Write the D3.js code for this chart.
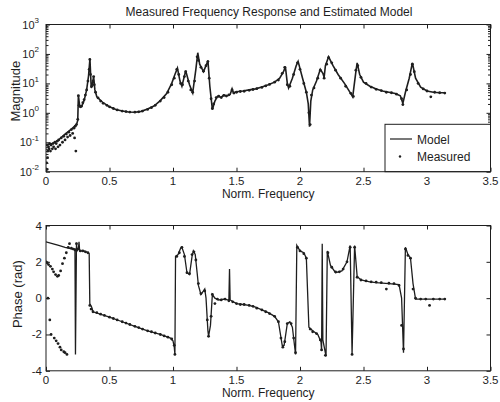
<!DOCTYPE html>
<html>
<head>
<meta charset="utf-8">
<script src="https://cdn.jsdelivr.net/npm/d3@7"></script>
<style>
  body { margin: 0; background: #fff; }
  svg { display: block; }
  text { font-family: "Liberation Sans", Arial, sans-serif; fill: #1e1e1e; }
</style>
</head>
<body>
<svg id="chart" width="500" height="402"></svg>
<script>
// ---- data ----
var xTicks = [0, 0.5, 1, 1.5, 2, 2.5, 3, 3.5];
var magDecades = [-2, -1, 0, 1, 2, 3];
var phaseTicks = [-4, -2, 0, 2, 4];
var legendLabels = ['Model', 'Measured'];

// model magnitude [freq, magnitude]
var modelMag = [
  [0,0.08],[0.05,0.09],[0.1,0.12],[0.15,0.19],[0.2,0.28],[0.24,0.4],[0.25,0.55],[0.255,4.0],
  [0.265,1.7],[0.28,1.6],[0.3,2.6],[0.32,6],[0.335,18],[0.346,68],[0.356,7],[0.366,10],
  [0.375,17],[0.385,6],[0.4,3.5],[0.45,2.2],[0.5,1.6],[0.55,1.3],[0.6,1.15],[0.65,1.07],
  [0.7,1.05],[0.75,1.12],[0.8,1.35],[0.85,1.7],[0.9,2.6],[0.95,4.5],[0.99,10],[1.015,20],
  [1.035,33],[1.055,12],[1.07,8],[1.09,18],[1.10,27],[1.13,9],[1.155,4.8],[1.18,30],
  [1.195,110],[1.21,45],[1.24,25],[1.265,45],[1.275,60],[1.29,8],[1.31,1.3],[1.33,2.5],
  [1.35,3.6],[1.38,3.4],[1.4,4],[1.43,3.8],[1.45,4.2],[1.465,6.5],[1.475,4.8],[1.5,5.2],
  [1.55,5.5],[1.6,6],[1.65,6.5],[1.7,7.5],[1.75,9],[1.8,11],[1.84,15],[1.87,25],
  [1.885,37],[1.9,10],[1.91,7],[1.94,15],[1.97,40],[1.985,56],[2.02,15],[2.05,5],
  [2.065,2],[2.075,0.34],[2.085,2.5],[2.1,6],[2.13,12],[2.16,30],[2.18,22],[2.19,16],
  [2.2,40],[2.225,80],[2.26,40],[2.3,20],[2.35,10],[2.4,4.5],[2.415,3.5],[2.44,25],
  [2.45,50],[2.47,20],[2.5,11],[2.55,8],[2.6,6.5],[2.65,5.5],[2.7,5],[2.75,4.5],
  [2.79,3.8],[2.81,2.1],[2.83,5],[2.86,15],[2.885,50],[2.91,15],[2.95,7.5],[3.0,5.5],
  [3.05,5],[3.1,4.8],[3.14,4.8]
];

// measured magnitude [freq, magnitude]
var measuredMag = [
  [0.005,0.02],[0.01,0.012],[0.012,0.03],[0.015,0.05],[0.02,0.07],[0.025,0.06],[0.03,0.09],
  [0.035,0.05],[0.04,0.08],[0.05,0.06],[0.055,0.09],[0.06,0.07],[0.07,0.1],[0.075,0.06],
  [0.08,0.09],[0.09,0.11],[0.095,0.07],[0.1,0.12],[0.11,0.08],[0.12,0.14],[0.13,0.1],
  [0.14,0.16],[0.15,0.12],[0.16,0.19],[0.17,0.15],[0.18,0.22],[0.19,0.17],[0.2,0.27],
  [0.21,0.2],[0.22,0.3],[0.225,0.14],[0.23,0.35],[0.235,0.05],[0.24,0.4],[0.25,0.6],
  [0.255,3.8],[0.26,1.8],[0.27,1.6],[0.28,1.7],[0.29,2.2],[0.3,2.8],[0.31,4],[0.32,6],
  [0.33,12],[0.34,30],[0.345,65],[0.35,20],[0.36,8],[0.37,12],[0.375,17],[0.38,9],
  [0.39,5],[0.41,3.2],[0.43,2.5],[0.45,2.1],[0.48,1.8],[0.5,1.6],[0.53,1.4],[0.56,1.25],
  [0.6,1.15],[0.63,1.1],[0.66,1.06],[0.7,1.05],[0.73,1.08],[0.76,1.15],[0.8,1.3],
  [0.83,1.5],[0.86,1.8],[0.9,2.5],[0.93,3.3],[0.96,5],[0.99,9],[1.01,15],[1.03,30],
  [1.045,20],[1.06,10],[1.075,9],[1.09,17],[1.10,25],[1.12,12],[1.14,6],[1.155,5],
  [1.17,12],[1.19,80],[1.2,60],[1.22,35],[1.24,26],[1.26,40],[1.275,55],[1.285,15],
  [1.3,3],[1.31,1.4],[1.32,2],[1.34,3.3],[1.36,3.7],[1.38,3.3],[1.4,3.9],[1.42,3.7],
  [1.44,4.1],[1.465,6],[1.48,4.7],[1.5,5],[1.53,5.3],[1.56,5.4],[1.6,5.8],[1.63,6.2],
  [1.66,6.6],[1.7,7.3],[1.73,8.2],[1.76,9.2],[1.8,11],[1.83,13],[1.86,22],[1.88,35],
  [1.9,9],[1.92,8],[1.95,20],[1.98,50],[2.0,30],[2.03,10],[2.05,5],[2.07,1],[2.08,0.4],
  [2.09,4],[2.11,7],[2.14,15],[2.16,28],[2.19,15],[2.21,45],[2.225,75],[2.25,50],
  [2.28,28],[2.32,15],[2.36,8],[2.4,4.6],[2.42,3.6],[2.44,28],[2.455,40],[2.48,16],
  [2.52,10],[2.56,7.5],[2.6,6.3],[2.64,5.7],[2.68,5],[2.72,4.8],[2.76,4.3],[2.8,3],
  [2.81,1.9],[2.84,6],[2.87,20],[2.885,45],[2.9,25],[2.93,10],[2.97,6.5],[3.0,5.5],
  [3.03,3.5],[3.06,5],[3.1,4.8],[3.14,4.7]
];

// model phase [freq, rad]
var modelPhase = [
  [0,3.1],[0.05,3.0],[0.1,2.9],[0.15,2.8],[0.2,2.72],[0.228,2.7],[0.232,-3.1],[0.24,3.05],
  [0.245,2.6],[0.255,2.7],[0.26,3.1],[0.265,2.6],[0.3,2.6],[0.33,2.5],[0.34,2.45],
  [0.345,-0.3],[0.36,-0.5],[0.37,-0.75],[0.5,-1.05],[0.6,-1.3],[0.7,-1.55],[0.8,-1.8],
  [0.9,-2.0],[0.98,-2.2],[1.0,-2.35],[1.01,-2.7],[1.015,-3.1],[1.02,2.3],[1.04,2.4],
  [1.06,2.75],[1.07,2.8],[1.09,2.4],[1.11,1.4],[1.13,1.3],[1.15,2.3],[1.16,2.6],
  [1.175,2.4],[1.19,1.4],[1.2,0.7],[1.22,0.2],[1.25,0.5],[1.26,0],[1.275,-1.8],
  [1.28,-2.1],[1.295,-1.5],[1.31,0.2],[1.33,0],[1.36,-0.1],[1.4,-0.05],[1.43,-0.1],
  [1.44,-0.1],[1.445,1.6],[1.45,-0.1],[1.5,-0.3],[1.55,-0.35],[1.6,-0.4],[1.65,-0.5],
  [1.7,-0.65],[1.75,-0.8],[1.8,-1.0],[1.83,-1.3],[1.86,-2.6],[1.875,-2.6],[1.9,-1.4],
  [1.92,-1.3],[1.94,-1.6],[1.965,-3.1],[1.975,2.9],[2.0,2.6],[2.03,2.5],[2.05,2.2],
  [2.07,-1.6],[2.1,-1.8],[2.14,-2.0],[2.165,-2.4],[2.17,-2.9],[2.175,3.0],[2.18,-2.3],
  [2.205,-3.2],[2.215,2.6],[2.24,1.8],[2.28,1.4],[2.33,1.5],[2.37,2.0],[2.395,2.9],
  [2.41,-3.1],[2.43,2.9],[2.45,1.2],[2.48,1.0],[2.55,0.9],[2.6,0.85],[2.7,0.8],
  [2.78,0.75],[2.8,0],[2.815,-3.0],[2.83,2.8],[2.85,2.4],[2.87,2.2],[2.89,0.8],
  [2.91,-0.05],[3.0,-0.05],[3.14,-0.05]
];

// measured phase [freq, rad]
var measuredPhase = [
  [0.0,2.0],[0.01,1.95],[0.015,0.0],[0.02,1.85],[0.03,-1.2],[0.035,1.75],[0.04,-2.0],
  [0.05,1.6],[0.06,1.45],[0.065,-2.2],[0.075,1.3],[0.08,-2.35],[0.09,1.2],[0.095,-2.5],
  [0.1,1.25],[0.11,-2.7],[0.115,1.5],[0.12,-2.85],[0.13,1.9],[0.14,-2.95],[0.145,2.2],
  [0.15,-3.0],[0.16,2.5],[0.165,-3.1],[0.175,2.8],[0.185,3.0],[0.2,2.75],[0.215,2.7],
  [0.23,2.65],[0.24,3.0],[0.25,2.7],[0.27,2.6],[0.29,2.6],[0.31,2.55],[0.33,2.5],
  [0.345,-0.4],[0.355,-0.6],[0.37,-0.75],[0.4,-0.8],[0.43,-0.88],[0.46,-0.95],[0.5,-1.05],
  [0.53,-1.12],[0.56,-1.2],[0.6,-1.3],[0.63,-1.37],[0.66,-1.45],[0.7,-1.55],[0.73,-1.62],
  [0.76,-1.7],[0.8,-1.8],[0.83,-1.85],[0.86,-1.92],[0.9,-2.0],[0.93,-2.08],[0.96,-2.15],
  [0.99,-2.25],[1.01,-2.6],[1.015,-3.1],[1.03,2.3],[1.05,2.5],[1.07,2.8],[1.09,2.3],
  [1.11,1.4],[1.13,1.35],[1.15,2.4],[1.165,2.55],[1.18,2.1],[1.2,0.8],[1.22,0.25],
  [1.25,0.4],[1.27,-1.2],[1.28,-2.1],[1.3,-1.0],[1.31,0.2],[1.33,-0.3],[1.35,-0.05],
  [1.38,-0.1],[1.41,-0.05],[1.44,-0.15],[1.47,-0.2],[1.5,-0.3],[1.53,-0.35],[1.56,-0.35],
  [1.6,-0.4],[1.63,-0.45],[1.66,-0.55],[1.7,-0.65],[1.73,-0.75],[1.76,-0.85],[1.8,-1.0],
  [1.83,-1.3],[1.85,-2.2],[1.865,-2.7],[1.88,-2.4],[1.9,-1.4],[1.93,-1.4],[1.95,-2.2],
  [1.965,-3.0],[1.98,2.8],[2.0,2.6],[2.03,2.45],[2.05,2.2],[2.08,-1.7],[2.1,-1.85],
  [2.13,-1.95],[2.16,-2.3],[2.17,-2.85],[2.2,-3.15],[2.22,2.5],[2.25,1.7],[2.28,1.45],
  [2.31,1.45],[2.34,1.6],[2.37,2.0],[2.395,2.8],[2.41,-3.1],[2.43,2.8],[2.45,1.15],
  [2.48,1.0],[2.52,0.95],[2.56,0.9],[2.6,0.88],[2.64,0.85],[2.68,0.5],[2.7,0.82],
  [2.74,0.8],[2.78,0.7],[2.8,-1.5],[2.815,-2.8],[2.83,2.7],[2.85,2.35],[2.87,2.2],
  [2.89,0.5],[2.91,0.0],[2.95,-0.05],[2.99,-0.05],[3.02,-0.4],[3.05,-0.05],[3.1,-0.05],
  [3.14,-0.05]
];

// ---- layout ----
var ink = '#1e1e1e';
var left = 46, right = 490.5;
var top1 = 24.5, bot1 = 171.7;
var top2 = 225.5, bot2 = 370.8;

var svg = d3.select('#chart');

var xs = d3.scaleLinear().domain([0, 3.5]).range([left, right]);
var ysMag = d3.scaleLog().domain([1e-2, 1e3]).range([bot1, top1]);
var ysPh = d3.scaleLinear().domain([-4, 4]).range([bot2, top2]);

function frame(top, bot, ys, yValues, yMinor, id) {
    // clip
    svg.append('clipPath').attr('id', id)
      .append('rect').attr('x', left).attr('y', top)
      .attr('width', right - left).attr('height', bot - top);

    // ticks pointing inward on all four sides
    var ax = [
      [d3.axisBottom(xs), 0, bot],
      [d3.axisTop(xs), 0, top]
    ];
    ax.forEach(function(a) {
        svg.append('g')
          .attr('transform', 'translate(' + a[1] + ',' + a[2] + ')')
          .call(a[0].tickValues(xTicks).tickSize(-4).tickFormat(''))
          .call(function(g) { g.select('.domain').remove(); })
          .selectAll('line').attr('stroke', ink);
    });
    [[d3.axisLeft(ys), left], [d3.axisRight(ys), right]].forEach(function(a) {
        svg.append('g')
          .attr('transform', 'translate(' + a[1] + ',0)')
          .call(a[0].tickValues(yValues).tickSize(-4).tickFormat(''))
          .call(function(g) { g.select('.domain').remove(); })
          .selectAll('line').attr('stroke', ink);
        if (yMinor) {
            svg.append('g')
              .attr('transform', 'translate(' + a[1] + ',0)')
              .call(a[0].tickValues(yMinor).tickSize(-2.5).tickFormat(''))
              .call(function(g) { g.select('.domain').remove(); })
              .selectAll('line').attr('stroke', ink);
        }
    });

    // x tick labels
    svg.append('g').selectAll('text')
      .data(xTicks).enter().append('text')
      .attr('x', function(d) { return xs(d); })
      .attr('y', bot + 13.5)
      .attr('text-anchor', 'middle')
      .style('font-size', '11.5px')
      .text(function(d) { return d; });

    svg.append('text')
      .attr('x', (left + right) / 2)
      .attr('y', bot + 26.5)
      .attr('text-anchor', 'middle')
      .style('font-size', '12px')
      .text('Norm. Frequency');
}

// minor log ticks 2..9 in each decade
var magMinor = [];
magDecades.slice(0, -1).forEach(function(e) {
    for (var k = 2; k <= 9; k++) magMinor.push(k * Math.pow(10, e));
});

// ---- top panel: magnitude ----
frame(top1, bot1, ysMag, magDecades.map(function(e) { return Math.pow(10, e); }), magMinor, 'clipMag');

var magLabels = svg.append('g').selectAll('text')
  .data(magDecades).enter().append('text')
  .attr('x', 39)
  .attr('y', function(d) { return ysMag(Math.pow(10, d)) + 4; })
  .attr('text-anchor', 'end')
  .style('font-size', '11px')
  .text('10');
magLabels.append('tspan')
  .attr('dy', -5.5)
  .style('font-size', '8px')
  .text(function(d) { return d; });

svg.append('text')
  .attr('transform', 'translate(19.5,' + ((top1 + bot1) / 2 - 7) + ') rotate(-90)')
  .attr('text-anchor', 'middle')
  .style('font-size', '13px')
  .text('Magnitude');

svg.append('text')
  .attr('x', 269)
  .attr('y', 16)
  .attr('text-anchor', 'middle')
  .style('font-size', '12px')
  .text('Measured Frequency Response and Estimated Model');

var magLine = d3.line()
  .x(function(d) { return xs(d[0]); })
  .y(function(d) { return ysMag(d[1]); });

var pMag = svg.append('g').attr('clip-path', 'url(#clipMag)');
pMag.append('path')
  .datum(modelMag)
  .attr('d', magLine)
  .attr('fill', 'none')
  .attr('stroke', ink)
  .attr('stroke-width', 1.6);
pMag.selectAll('circle')
  .data(measuredMag).enter().append('circle')
  .attr('cx', function(d) { return xs(d[0]); })
  .attr('cy', function(d) { return ysMag(d[1]); })
  .attr('r', 1.4)
  .attr('fill', ink);

// legend
var lg = svg.append('g');
lg.append('rect')
  .attr('x', 385).attr('y', 124.3)
  .attr('width', right - 385).attr('height', bot1 - 124.3)
  .attr('fill', '#fff').attr('stroke', ink).attr('stroke-width', 1);
lg.append('line')
  .attr('x1', 390).attr('x2', 412).attr('y1', 139).attr('y2', 139)
  .attr('stroke', ink).attr('stroke-width', 1.2);
lg.append('circle')
  .attr('cx', 400).attr('cy', 156.5).attr('r', 1.2).attr('fill', ink);
lg.selectAll('text')
  .data(legendLabels).enter().append('text')
  .attr('x', 417)
  .attr('y', function(d, i) { return 143.5 + i * 17; })
  .style('font-size', '12px')
  .text(function(d) { return d; });

// ---- bottom panel: phase ----
frame(top2, bot2, ysPh, phaseTicks, null, 'clipPh');

svg.append('g').selectAll('text')
  .data(phaseTicks).enter().append('text')
  .attr('x', 42)
  .attr('y', function(d) { return ysPh(d) + 4; })
  .attr('text-anchor', 'end')
  .style('font-size', '11.5px')
  .text(function(d) { return d < 0 ? '-' + (-d) : d; });

svg.append('text')
  .attr('transform', 'translate(22,' + ((top2 + bot2) / 2 - 4) + ') rotate(-90)')
  .attr('text-anchor', 'middle')
  .style('font-size', '13px')
  .text('Phase (rad)');

var phLine = d3.line()
  .x(function(d) { return xs(d[0]); })
  .y(function(d) { return ysPh(d[1]); });

var pPh = svg.append('g').attr('clip-path', 'url(#clipPh)');
pPh.append('path')
  .datum(modelPhase)
  .attr('d', phLine)
  .attr('fill', 'none')
  .attr('stroke', ink)
  .attr('stroke-width', 1.3);
pPh.selectAll('circle')
  .data(measuredPhase).enter().append('circle')
  .attr('cx', function(d) { return xs(d[0]); })
  .attr('cy', function(d) { return ysPh(d[1]); })
  .attr('r', 1.4)
  .attr('fill', ink);

// boxes
[[top1, bot1], [top2, bot2]].forEach(function(b) {
    svg.append('rect')
      .attr('x', left).attr('y', b[0])
      .attr('width', right - left).attr('height', b[1] - b[0])
      .attr('fill', 'none').attr('stroke', ink).attr('stroke-width', 1);
});
</script>
</body>
</html>
